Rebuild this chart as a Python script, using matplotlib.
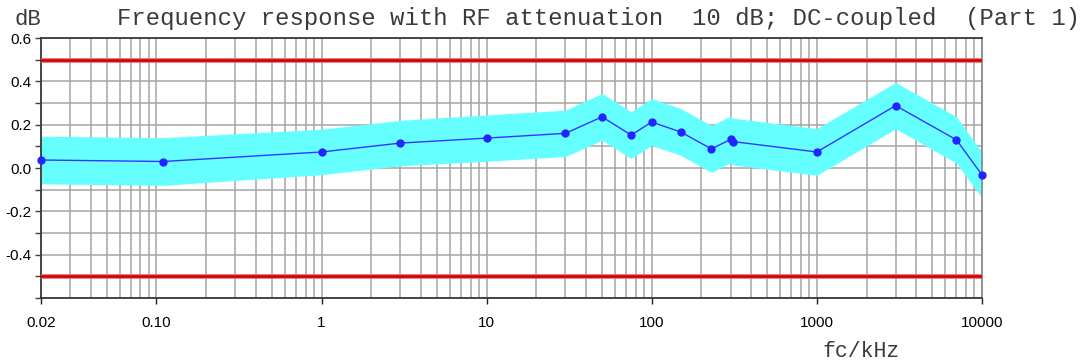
import matplotlib
matplotlib.use("Agg")
import matplotlib.pyplot as plt
from matplotlib.ticker import FixedLocator, FixedFormatter, NullFormatter

# Messpunkte: Frequenz in kHz, Frequenzgang in dB, Toleranz in dB
freq_khz = [0.02, 0.11, 1, 3, 10, 30, 50, 75, 100, 150, 230, 300, 310,
            1000, 3000, 7000, 10000]
level_db = [0.037, 0.030, 0.074, 0.115, 0.138, 0.160, 0.236, 0.152, 0.212,
            0.166, 0.088, 0.132, 0.122, 0.074, 0.288, 0.130, -0.032]
tol_db = [0.11, 0.11, 0.105, 0.105, 0.107, 0.107, 0.108, 0.108, 0.108,
          0.108, 0.108, 0.108, 0.108, 0.108, 0.107, 0.107, 0.105]

limit_db = 0.5
x_ticks = [0.02, 0.1, 1, 10, 100, 1000, 10000]
x_labels = ["0.02", "0.10", "1", "10", "100", "1000", "10000"]
y_ticks = [-0.4, -0.2, 0.0, 0.2, 0.4, 0.6]
y_labels = ["-0.4", "-0.2", "0.0", "0.2", "0.4", "0.6"]

W, H = 1084, 363
fig = plt.figure(figsize=(W / 100, H / 100), dpi=100)
ax = fig.add_axes([41 / W, 1 - 298 / H, (982 - 41) / W, (298 - 38) / H])

upper = [v + t for v, t in zip(level_db, tol_db)]
lower = [v - t for v, t in zip(level_db, tol_db)]

ax.set_xscale("log")
ax.set_xlim(0.02, 10000)
ax.set_ylim(-0.6, 0.6)

# Gitter: alle Dekaden-Unterteilungen und 0.1 dB
vgrid = [m * 10.0 ** e for e in range(-2, 5) for m in range(1, 10)]
vgrid = [v for v in vgrid if 0.02 <= v <= 10000]
for v in vgrid:
    ax.axvline(v, color="#a4a4a4", lw=1.1, zorder=1)
for k in range(-6, 7):
    ax.axhline(k / 10, color="#a4a4a4", lw=1.1, zorder=1)

ax.fill_between(freq_khz, lower, upper, color="#66ffff", lw=0, zorder=2)

# Grenzlinien
for lim in (limit_db, -limit_db):
    ax.axhline(lim, color="#e46868", lw=3.4, zorder=3)
    ax.axhline(lim, color="#cc0000", lw=1.8, zorder=3)

ax.plot(freq_khz, level_db, color="#3535ff", lw=1.0, marker="o",
        markersize=5, markerfacecolor="#2424ff", markeredgecolor="#2424ff",
        zorder=4, clip_on=False)

ax.xaxis.set_major_locator(FixedLocator(x_ticks))
ax.xaxis.set_major_formatter(FixedFormatter(x_labels))
ax.xaxis.set_minor_locator(FixedLocator([]))
ax.xaxis.set_minor_formatter(NullFormatter())
ax.yaxis.set_major_locator(FixedLocator(y_ticks))
ax.yaxis.set_major_formatter(FixedFormatter(y_labels))
ax.yaxis.set_minor_locator(FixedLocator([k / 10 for k in range(-6, 7)]))

for lab in ax.get_xticklabels() + ax.get_yticklabels():
    lab.set_fontfamily("Liberation Sans")
    lab.set_fontsize(11)
ax.tick_params(axis="x", which="major", direction="out", length=4, width=1,
               color="#202020", pad=9)
ax.tick_params(axis="y", which="both", direction="out", length=4, width=1,
               color="#404040", pad=3)

for side in ("left", "top", "bottom"):
    ax.spines[side].set_color("#383838")
    ax.spines[side].set_linewidth(1.3)
ax.spines["right"].set_color("#8c8c8c")
ax.spines["right"].set_linewidth(1.3)

mono = dict(family="Liberation Mono", color="#3a3a3a")
fig.text(14 / W, 1 - 25 / H, "dB", fontsize=16, va="baseline", **mono)
fig.text(117 / W, 1 - 25 / H,
         "Frequency response with RF attenuation  10 dB; DC-coupled  (Part 1)",
         fontsize=17.2, va="baseline", **mono)
fig.text(822 / W, 1 - 357 / H, "fc/kHz", fontsize=15.5, va="baseline", **mono)

fig.savefig("out.png", dpi=100)
